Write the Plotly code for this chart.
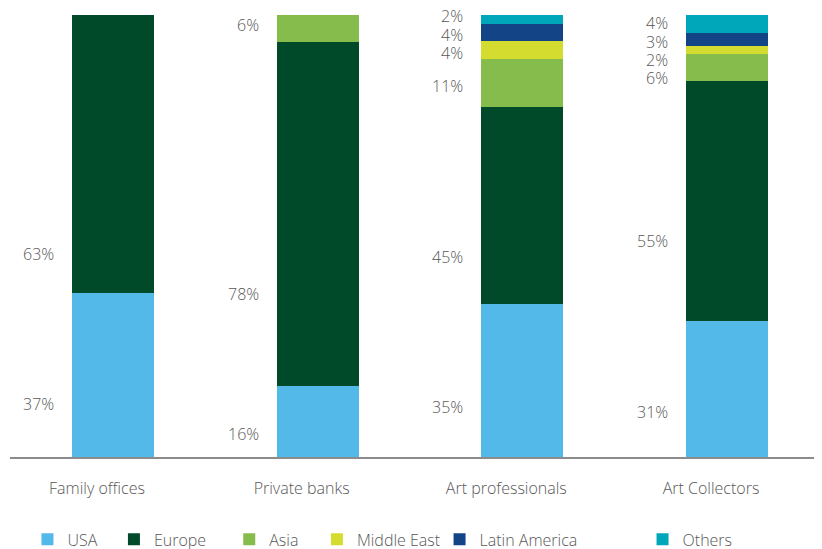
import plotly.graph_objects as go

# categories and shares (%)
categories = ['Family offices', 'Private banks', 'Art professionals', 'Art Collectors']
regions = ['USA', 'Europe', 'Asia', 'Middle East', 'Latin America', 'Others']
shares = {
    'USA':           [37, 16, 35, 31],
    'Europe':        [63, 78, 45, 55],
    'Asia':          [0, 6, 11, 6],
    'Middle East':   [0, 0, 4, 2],
    'Latin America': [0, 0, 4, 3],
    'Others':        [0, 0, 2, 4],
}
colors = ['#53B9E9', '#004A2A', '#86BC4B', '#D4DD2F', '#134486', '#00A7BA']

# where each percent label sits (in % of bar height), same order as regions
label_y = {
    'USA':           [12.0, 5.2, 11.3, 10.2],
    'Europe':        [45.9, 36.9, 45.2, 48.9],
    'Asia':          [None, 97.7, 83.9, 85.7],
    'Middle East':   [None, None, 91.4, 89.8],
    'Latin America': [None, None, 95.5, 93.9],
    'Others':        [None, None, 99.8, 98.2],
}

# legend item left edges (paper coords)
legend_x = [0.0215, 0.128, 0.270, 0.378, 0.529, 0.779]

font = dict(family='Open Sans', size=16, color='#585858', weight=300)

fig = go.Figure()
for i, r in enumerate(regions):
    fig.add_trace(go.Bar(
        x=list(range(len(categories))), y=shares[r], name=r,
        marker=dict(color=colors[i], line=dict(width=0)),
        width=0.4,
        legend='legend' if i == 0 else f'legend{i + 1}',
    ))

# percent labels to the left of each bar
for r in regions:
    for j, v in enumerate(shares[r]):
        if v == 0:
            continue
        fig.add_annotation(x=j - 0.2, y=label_y[r][j], text=f'{v}%',
                           xref='x', yref='y', xanchor='right', yanchor='middle',
                           xshift=-16, showarrow=False, font=font)

legends = {}
for i in range(len(regions)):
    key = 'legend' if i == 0 else f'legend{i + 1}'
    legends[key] = dict(x=legend_x[i], y=-0.148, xanchor='left', yanchor='top',
                        orientation='h', itemwidth=30, traceorder='normal',
                        font=font, bgcolor='rgba(0,0,0,0)')

# page body has an 8px margin, so the figure is shifted 8px; the bottom just runs past the window
fig.update_layout(
    width=814, height=560,
    margin=dict(l=2, r=0, t=7, b=111),
    barmode='stack', barnorm='percent',
    plot_bgcolor='white', paper_bgcolor='white',
    showlegend=True,
    xaxis=dict(range=[-0.503, 3.464], tickvals=list(range(len(categories))),
               ticktext=categories, showgrid=False, zeroline=False,
               showline=True, linecolor='#8c8c8c', linewidth=2,
               ticks='', ticklabelshift=-16, ticklabelstandoff=16,
               tickfont=font),
    yaxis=dict(range=[0, 100], visible=False, showgrid=False),
    **legends,
)

fig.write_html('out.html')
